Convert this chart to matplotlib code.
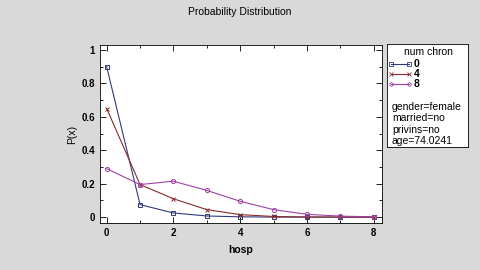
import matplotlib
matplotlib.use("Agg")
import matplotlib.pyplot as plt
from matplotlib.ticker import MultipleLocator

plt.rcParams['font.family'] = ['Liberation Sans', 'DejaVu Sans']

x = [0, 1, 2, 3, 4, 5, 6, 7, 8]
p_0 = [0.90, 0.075, 0.025, 0.007, 0.002, 0.0005, 0.0001, 0.0, 0.0]
p_4 = [0.65, 0.195, 0.11, 0.045, 0.015, 0.004, 0.001, 0.0003, 0.0001]
p_8 = [0.29, 0.195, 0.215, 0.16, 0.095, 0.045, 0.017, 0.006, 0.002]
series_labels = ["0", "4", "8"]
info_lines = ["gender=female", "married=no", "privins=no", "age=74.0241"]

bg = "#d9d9d9"
colors = ["#2f3a7a", "#8c2a2a", "#a040a8"]
markers = ["s", "x", "o"]

fig = plt.figure(figsize=(4.8, 2.7), dpi=100, facecolor=bg)
ax = fig.add_axes([100/480, 1-223/270, 282/480, 178/270])
ax.set_facecolor("white")

for ys, c, m, lab in zip([p_0, p_4, p_8], colors, markers, series_labels):
    ax.plot(x, ys, color=c, lw=0.8, marker=m, ms=3, mfc="none", mew=0.7, label=lab)

ax.set_xlim(-0.2, 8.25)
ax.set_ylim(-0.035, 1.03)
ax.xaxis.set_minor_locator(MultipleLocator(1))
ax.yaxis.set_minor_locator(MultipleLocator(0.1))
ax.tick_params(which="both", direction="in", top=True, right=True, labelsize=7, width=0.6)
ax.tick_params(which="major", length=4)
ax.tick_params(which="minor", length=2)
ax.set_yticks([0, 0.2, 0.4, 0.6, 0.8, 1.0])
ax.set_yticklabels(["0", "0.2", "0.4", "0.6", "0.8", "1"], fontweight="bold")
ax.set_xticks([0, 2, 4, 6, 8])
ax.set_xticklabels(["0", "2", "4", "6", "8"], fontweight="bold")
for s in ax.spines.values():
    s.set_linewidth(0.6)
ax.set_xlabel("hosp", fontsize=7.5, fontweight="bold", labelpad=5)
ax.set_ylabel("P(x)", fontsize=7.5, labelpad=3)

fig.text(0.5, 1-12/270, "Probability Distribution", ha="center", va="center",
         fontsize=7.5)

# legend panel
lax = fig.add_axes([387/480, 1-147/270, 81/480, 103/270])
lax.set_facecolor("white")
lax.set_xticks([]); lax.set_yticks([])
for s in lax.spines.values():
    s.set_linewidth(0.6)
lax.set_xlim(0, 81); lax.set_ylim(103, 0)
lax.text(41, 8, "num chron", ha="center", va="center", fontsize=7.5)
for i, (c, m, lab) in enumerate(zip(colors, markers, series_labels)):
    yy = 20 + i * 10
    lax.plot([4, 22], [yy, yy], color=c, lw=0.8, marker=m, ms=2.5, mfc="none", mew=0.6)
    lax.text(27, yy, lab, ha="left", va="center", fontsize=7.5, fontweight="bold")
for i, t in enumerate(info_lines):
    lax.text(5, 63 + i * 11.3, t, ha="left", va="center", fontsize=7.5)

fig.savefig("out.png", dpi=100, facecolor=bg)
